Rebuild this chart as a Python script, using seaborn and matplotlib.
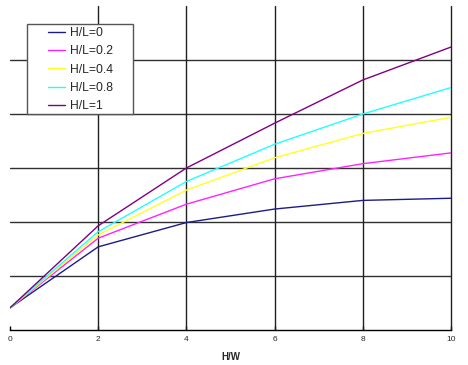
import matplotlib
matplotlib.use("Agg")
import matplotlib.pyplot as plt
from matplotlib.patches import Rectangle
import seaborn as sns
import pandas as pd

hw = [0, 2, 4, 6, 8, 10]
series_names = ["H/L=0", "H/L=0.2", "H/L=0.4", "H/L=0.8", "H/L=1"]
hl_0 = [0.41, 1.54, 1.99, 2.24, 2.40, 2.44]
hl_02 = [0.41, 1.70, 2.33, 2.80, 3.08, 3.28]
hl_04 = [0.41, 1.76, 2.59, 3.19, 3.64, 3.94]
hl_08 = [0.41, 1.82, 2.75, 3.44, 4.00, 4.49]
hl_1 = [0.41, 1.93, 3.00, 3.83, 4.63, 5.24]
x_ticks = [0, 2, 4, 6, 8, 10]
colors = ["#1c1c85", "#ff22ff", "#ffff22", "#22ffff", "#800080"]

rows = []
for name, vals in zip(series_names, [hl_0, hl_02, hl_04, hl_08, hl_1]):
    for x, y in zip(hw, vals):
        rows.append({"H/W": x, "val": y, "series": name})
df = pd.DataFrame(rows)

sns.set_theme(style="white")
plt.rcParams["font.family"] = ["Liberation Sans", "DejaVu Sans"]

W, H = 468, 365
fig = plt.figure(figsize=(W / 100, H / 100), dpi=100)
ax = fig.add_axes([10 / W, 35 / H, 441 / W, 324 / H])

# grid lines
for yv in [1, 2, 3, 4, 5]:
    ax.axhline(yv, color="#303030", lw=1.0, zorder=1)
for xv in x_ticks[1:]:
    ax.axvline(xv, color="#202020", lw=1.0, zorder=1, clip_on=False)

sns.lineplot(data=df, x="H/W", y="val", hue="series", hue_order=series_names,
             palette=colors, linewidth=1.0, ax=ax, zorder=3)

ax.set_xlim(0, 10)
ax.set_ylim(0, 6)
ax.set_xticks(x_ticks)
ax.set_xticklabels([str(t) for t in x_ticks], fontsize=6)
ax.set_yticks([])
ax.set_ylabel("")
ax.set_xlabel("H/W", fontsize=7, fontweight="bold", labelpad=7)
for s in ["top", "left", "right"]:
    ax.spines[s].set_visible(False)
ax.spines["bottom"].set_color("black")
ax.spines["bottom"].set_linewidth(1.0)
ax.tick_params(axis="x", length=3, width=1, color="black", pad=4, bottom=True, direction="in")

# legend frame
ax.add_patch(Rectangle((27 / W, (H - 114) / H), 106 / W, 90 / H,
                       transform=fig.transFigure, facecolor="white",
                       edgecolor="#555555", linewidth=1.0, zorder=4, clip_on=False))

leg = ax.legend(loc="upper left", bbox_to_anchor=(48 / W, (H - 27) / H),
                bbox_transform=fig.transFigure,
                fontsize=8.7, frameon=False, handlelength=1.4, handletextpad=0.4,
                labelspacing=0.52, borderpad=0, borderaxespad=0)
leg.set_zorder(5)

fig.savefig("out.png", dpi=100)
